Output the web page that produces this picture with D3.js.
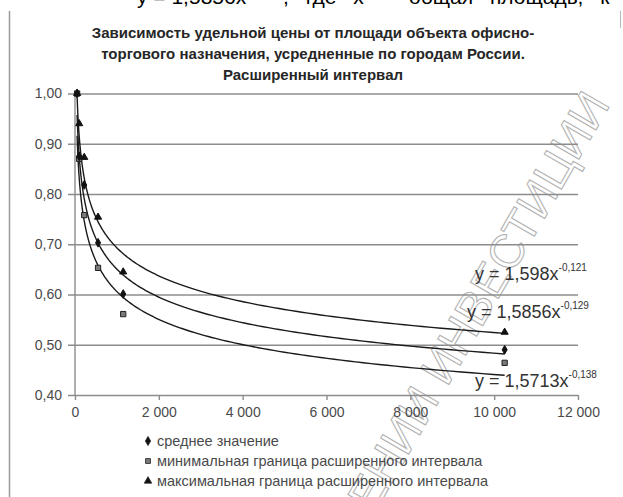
<!DOCTYPE html>
<html>
<head>
<meta charset="utf-8">
<script src="https://cdn.jsdelivr.net/npm/d3@7/dist/d3.min.js"></script>
<style>
  html, body { margin: 0; padding: 0; background: #fff; }
  svg { display: block; }
  text { font-family: "Liberation Sans", Arial, sans-serif; }
</style>
</head>
<body>
<svg id="chart" width="623" height="497"></svg>
<script>
// Площадь объекта, кв. м
const areas = [50, 100, 220, 550, 1150, 10250];
// Корректирующие коэффициенты
const meanValues = [1.00, 0.875, 0.818, 0.703, 0.601, 0.490];
const minValues  = [1.00, 0.870, 0.758, 0.653, 0.561, 0.464];
const maxValues  = [1.00, 0.940, 0.873, 0.754, 0.645, 0.525];

// Степенные линии тренда y = a * x^b
const trendMax  = { a: 1.598,  b: -0.121, label: "y = 1,598x",  sup: "-0,121" };
const trendMean = { a: 1.5856, b: -0.129, label: "y = 1,5856x", sup: "-0,129" };
const trendMin  = { a: 1.5713, b: -0.138, label: "y = 1,5713x", sup: "-0,138" };

const xTicks = [0, 2000, 4000, 6000, 8000, 10000, 12000];
const yTicks = [0.40, 0.50, 0.60, 0.70, 0.80, 0.90, 1.00];

const titleLines = [
  "Зависимость удельной  цены от площади объекта офисно-",
  "торгового назначения, усредненные по городам России.",
  "Расширенный интервал"
];
const legendLabels = [
  "среднее значение",
  "минимальная граница расширенного интервала",
  "максимальная граница расширенного интервала"
];

const svg = d3.select("#chart");
const W = 623, H = 497;

const x = d3.scaleLinear().domain([0, 12000]).range([75, 578]);
const y = d3.scaleLinear().domain([0.40, 1.00]).range([395, 93.5]);

const ruLocale = d3.formatLocale({ decimal: ",", thousands: "\u00a0", grouping: [3], currency: ["", ""] });
const fmtX = ruLocale.format(",d");
const fmtY = ruLocale.format(".2f");

// Водяной знак (под графиком)
svg.append("text").attr("transform", "translate(374,514) rotate(-60)")
  .attr("font-size", 47).attr("fill", "none").attr("stroke", "#9a9a9a").attr("stroke-width", 1.1)
  .attr("opacity", 0.75).text("ЕНИИ ИНВЕСТИЦИИ");

// Строка текста документа над диаграммой
const docLine = svg.append("text").attr("x", 137).attr("y", 4)
  .attr("font-size", 21).attr("fill", "#000");
docLine.append("tspan").text("у = 1,5856х");
docLine.append("tspan").attr("dy", -9).attr("font-size", 13).text("-0,129");
docLine.append("tspan").attr("dy", 9).attr("word-spacing", 11).text(", где х – общая площадь, к");

// Рамка области диаграммы
svg.append("line").attr("x1", 9.5).attr("x2", 9.5).attr("y1", 11).attr("y2", H)
  .attr("stroke", "#9a9a9a").attr("stroke-width", 1.5);
svg.append("line").attr("x1", 620.5).attr("x2", 620.5).attr("y1", 11).attr("y2", 28)
  .attr("stroke", "#bbb").attr("stroke-width", 1);

// Заголовок
svg.append("g").selectAll("text").data(titleLines).join("text")
  .attr("x", 313).attr("y", (d, i) => 38 + i * 21)
  .attr("text-anchor", "middle").attr("font-size", 15).attr("font-weight", "bold")
  .attr("fill", "#262626").text(d => d);

// Сетка и ось Y
const gy = svg.append("g").attr("transform", `translate(${x(0)},0)`)
  .call(d3.axisLeft(y).tickValues(yTicks).tickFormat(fmtY).tickSize(-(x(12000) - x(0))).tickPadding(13));
gy.select(".domain").remove();
gy.selectAll(".tick line").attr("stroke", "#8c8c8c").attr("stroke-width", 1.6).attr("x1", -7);
gy.selectAll(".tick text").attr("font-size", 14).attr("fill", "#4a4a4a")
  .attr("font-family", "'Liberation Sans', Arial, sans-serif");
svg.append("line").attr("x1", x(0)).attr("x2", x(0)).attr("y1", y(1)).attr("y2", y(0.4))
  .attr("stroke", "#8c8c8c").attr("stroke-width", 1.4);

// Ось X
const gx = svg.append("g").attr("transform", `translate(0,${y(0.4)})`)
  .call(d3.axisBottom(x).tickValues(xTicks).tickFormat(fmtX).tickSize(5).tickPadding(7));
gx.select(".domain").remove();
gx.selectAll(".tick line").attr("stroke", "#8c8c8c").attr("stroke-width", 1.4);
gx.selectAll(".tick text").attr("font-size", 14).attr("fill", "#4a4a4a")
  .attr("font-family", "'Liberation Sans', Arial, sans-serif");

// Линии тренда
const xs = d3.range(0, 201).map(i => areas[0] * Math.pow(areas[areas.length - 1] / areas[0], i / 200));
const line = d3.line().x(d => x(d[0])).y(d => y(d[1])).curve(d3.curveLinear);
svg.append("clipPath").attr("id", "plotClip").append("rect")
  .attr("x", x(0)).attr("y", y(1) - 1).attr("width", x(12000) - x(0)).attr("height", y(0.4) - y(1) + 2);
const trends = [trendMax, trendMean, trendMin];
svg.append("g").attr("clip-path", "url(#plotClip)").selectAll("path").data(trends).join("path")
  .attr("d", t => line(xs.map(v => [v, t.a * Math.pow(v, t.b)])))
  .attr("fill", "none").attr("stroke", "#1a1a1a").attr("stroke-width", 1.4);

// Маркеры
const diamond = d3.symbol().type(d3.symbolDiamond).size(22);
const square = d3.symbol().type(d3.symbolSquare).size(28);
const triangle = d3.symbol().type(d3.symbolTriangle).size(22);

const series = [
  { values: minValues, sym: square, fill: "#7a7a7a", stroke: "#222" },
  { values: meanValues, sym: diamond, fill: "#111", stroke: "#111" },
  { values: maxValues, sym: triangle, fill: "#111", stroke: "#111" }
];
series.forEach(s => {
  svg.append("g").selectAll("path").data(areas.map((a, i) => [a, s.values[i]])).join("path")
    .attr("transform", d => `translate(${x(d[0])},${y(d[1])})`)
    .attr("d", s.sym).attr("fill", s.fill).attr("stroke", s.stroke).attr("stroke-width", 1);
});

// Подписи уравнений
const eqPos = [
  { t: trendMax, x: 475, y: 280 },
  { t: trendMean, x: 467, y: 318 },
  { t: trendMin, x: 475, y: 387 }
];
eqPos.forEach(p => {
  const tx = svg.append("text").attr("x", p.x).attr("y", p.y).attr("font-size", 18).attr("fill", "#333");
  tx.append("tspan").text(p.t.label);
  tx.append("tspan").attr("dy", -9).attr("font-size", 10).text(p.t.sup);
});

// Легенда
const legendFills = ["#111", "#7a7a7a", "#111"];
const legendTypes = [d3.symbolDiamond, d3.symbolSquare, d3.symbolTriangle];
const lg = svg.append("g");
legendLabels.forEach((lbl, i) => {
  const yy = 441 + i * 20;
  lg.append("path").attr("transform", `translate(148,${yy})`)
    .attr("d", d3.symbol().type(legendTypes[i]).size(24))
    .attr("fill", legendFills[i]).attr("stroke", "#222").attr("stroke-width", 0.8);
  lg.append("text").attr("x", 157).attr("y", yy + 5).attr("font-size", 14.5).attr("fill", "#4a4a4a").text(lbl);
});
</script>
</body>
</html>
